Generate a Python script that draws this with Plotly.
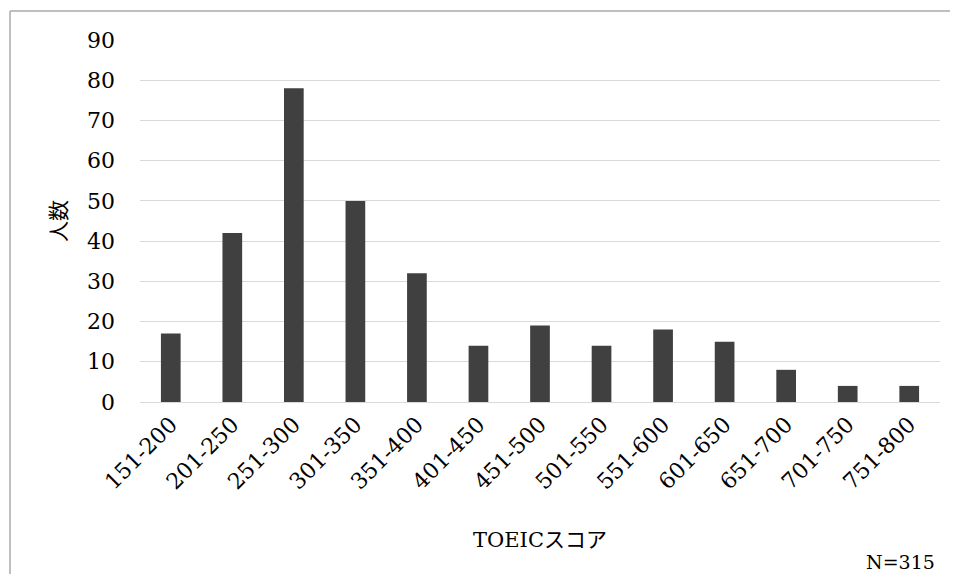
import plotly.graph_objects as go

categories = ["151-200", "201-250", "251-300", "301-350", "351-400", "401-450",
              "451-500", "501-550", "551-600", "601-650", "651-700", "701-750", "751-800"]
counts = [17, 42, 78, 50, 32, 14, 19, 14, 18, 15, 8, 4, 4]
y_ticks = [0, 10, 20, 30, 40, 50, 60, 70, 80, 90]

FONT = "DejaVu Serif, Noto Sans CJK JP, serif"
OFF = 8  # page body margin offset
W, H = 958 - OFF, 582 - 2 * OFF
ML, MT = 140 - OFF, 40 - OFF
MR = W - (940 - OFF)
MB = H - (402 - OFF)
PW, PH = W - ML - MR, H - MT - MB


def px_x(sx):
    return (sx - OFF - ML) / PW


def px_y(sy):
    return (H - MB - (sy - OFF)) / PH


fig = go.Figure(go.Bar(
    x=categories, y=counts,
    marker=dict(color="#404040", line=dict(width=0)),
    width=0.32,
))

border = dict(color="#bfbfbf", width=2)

fig.update_layout(
    width=W, height=H,
    margin=dict(l=ML, r=MR, t=MT, b=MB),
    paper_bgcolor="white", plot_bgcolor="white",
    font=dict(family=FONT, color="#000000", size=21),
    showlegend=False,
    xaxis=dict(
        type="category",
        tickangle=-45,
        tickfont=dict(size=22),
        showgrid=False,
        showline=True, linecolor="#d9d9d9", linewidth=1,
        ticks="",
        automargin=False,
        title=dict(text="TOEICスコア", font=dict(size=21), standoff=38),
    ),
    yaxis=dict(
        range=[0, 90],
        tickvals=y_ticks,
        tickfont=dict(size=22),
        showgrid=True, gridcolor="#d9d9d9", gridwidth=1,
        zeroline=False, showline=False,
        ticks="",
        ticklabelstandoff=24,
        automargin=False,
        title=dict(text="人数", font=dict(size=21), standoff=14),
    ),
    shapes=[
        dict(type="line", xref="paper", yref="paper",
             x0=px_x(10), x1=px_x(990), y0=px_y(11), y1=px_y(11),
             line=border, layer="below"),
        dict(type="line", xref="paper", yref="paper",
             x0=px_x(10), x1=px_x(10), y0=px_y(11), y1=px_y(600),
             line=border, layer="below"),
    ],
    annotations=[dict(
        text="N=315", xref="paper", yref="paper",
        x=px_x(937), y=px_y(562),
        xanchor="right", yanchor="middle", showarrow=False,
        font=dict(size=19),
    )],
)

fig.write_html("out.html")
